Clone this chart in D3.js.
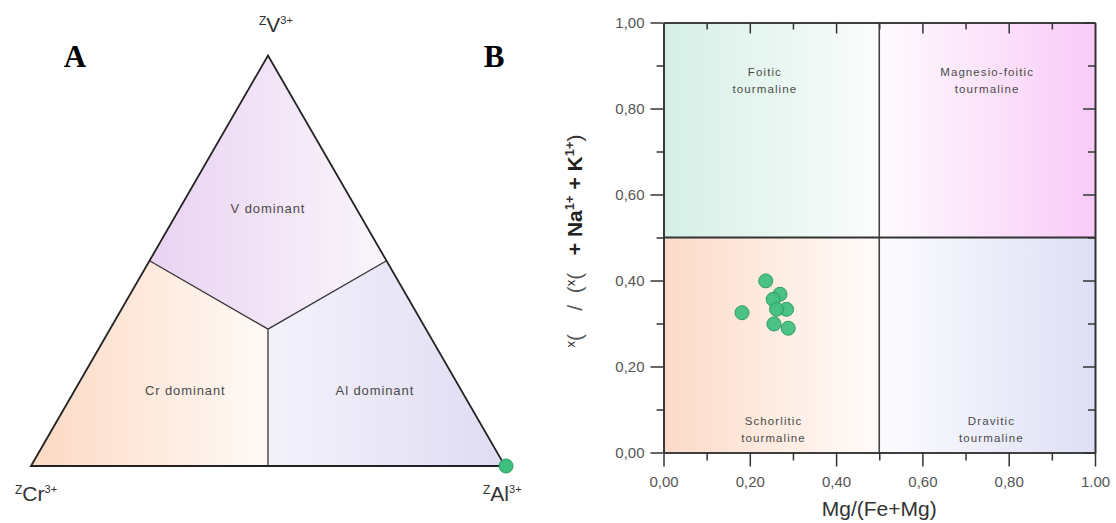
<!DOCTYPE html>
<html>
<head>
<meta charset="utf-8">
<script src="https://cdn.jsdelivr.net/npm/d3@7"></script>
<style>
  html, body { margin: 0; padding: 0; background: #fff; }
  svg { display: block; }
  .sans { font-family: "Liberation Sans", Arial, sans-serif; }
  .serif { font-family: "Liberation Serif", "Times New Roman", serif; }
  .pre { white-space: pre; }
</style>
</head>
<body>
<svg id="fig" width="1116" height="523"></svg>
<script>
// ---- Panel A: ternary Z-site diagram (Cr - V - Al) ----
const ternaryCorners = ["Cr", "V", "Al"];
const ternaryRegions = ["Cr dominant", "V dominant", "Al dominant"];
// sample composition as fractions of Z-site trivalent cations
const sampleCr = [0.0];
const sampleV = [0.0];
const sampleAl = [1.0];

// ---- Panel B: X-site vacancy vs Mg/(Fe+Mg) ----
const mgNumber = [0.237, 0.182, 0.270, 0.254, 0.285, 0.262, 0.256, 0.289];
const xVacancy = [0.399, 0.325, 0.368, 0.356, 0.333, 0.333, 0.299, 0.289];
const majorTicks = [0, 0.2, 0.4, 0.6, 0.8, 1.0];
const minorTicks = [0.1, 0.3, 0.5, 0.7, 0.9];
const xTickLabels = ["0,00", "0,20", "0,40", "0,60", "0,80", "1.00"];
const yTickLabels = ["0,00", "0,20", "0,40", "0,60", "0,80", "1,00"];
const fieldNames = [
  ["Foitic", "tourmaline"],
  ["Magnesio-foitic", "tourmaline"],
  ["Schorlitic", "tourmaline"],
  ["Dravitic", "tourmaline"]
];

const svg = d3.select("#fig");
const defs = svg.append("defs");

function hGradient(id, x1, x2, c1, c2) {
  const g = defs.append("linearGradient").attr("id", id)
    .attr("gradientUnits", "userSpaceOnUse")
    .attr("x1", x1).attr("x2", x2).attr("y1", 0).attr("y2", 0);
  g.append("stop").attr("offset", 0).attr("stop-color", c1);
  g.append("stop").attr("offset", 1).attr("stop-color", c2);
  return `url(#${id})`;
}

// ================= Panel A =================
const tri = svg.append("g").attr("class", "sans");
const base = d3.scaleLinear().domain([0, 1]).range([31, 505]);     // along Cr->Al edge
const heightY = d3.scaleLinear().domain([0, 1]).range([466, 55.5]); // V fraction

function tern(cr, v, al) {
  const s = cr + v + al;
  return [base(al / s + (v / s) / 2), heightY(v / s)];
}

const C_Cr = tern(1, 0, 0), C_V = tern(0, 1, 0), C_Al = tern(0, 0, 1);
const mid = tern(1, 1, 1);
const mCrV = tern(1, 1, 0), mVAl = tern(0, 1, 1), mCrAl = tern(1, 0, 1);

const regionPolys = [
  { pts: [C_Cr, mCrV, mid, mCrAl], fill: hGradient("gCr", C_Cr[0], mid[0], "#fdd9c3", "#fffaf7") },
  { pts: [C_V, mVAl, mid, mCrV], fill: hGradient("gV", mCrV[0], mVAl[0], "#e9d2f2", "#faf6fb") },
  { pts: [C_Al, mCrAl, mid, mVAl], fill: hGradient("gAl", mid[0], C_Al[0], "#f3f2fb", "#dfdcf3") }
];
tri.selectAll("path.region").data(regionPolys).join("path")
  .attr("class", "region")
  .attr("d", d => d3.line()(d.pts) + "Z")
  .attr("fill", d => d.fill)
  .attr("stroke", "none");

// internal boundaries from the centroid to the edge midpoints
tri.selectAll("line.bound").data([mCrV, mVAl, mCrAl]).join("line")
  .attr("class", "bound")
  .attr("x1", mid[0]).attr("y1", mid[1])
  .attr("x2", d => d[0]).attr("y2", d => d[1])
  .attr("stroke", "#333").attr("stroke-width", 1.3);

tri.append("path")
  .attr("d", d3.line()([C_Cr, C_V, C_Al]) + "Z")
  .attr("fill", "none").attr("stroke", "#222").attr("stroke-width", 1.8)
  .attr("stroke-linejoin", "miter");

// region labels (ternary positions Cr, V, Al)
const regionLabelAt = [
  tern(0.582, 0.185, 0.233),
  tern(0.186, 0.628, 0.186),
  tern(0.182, 0.185, 0.633)
];
tri.selectAll("text.rlab").data(ternaryRegions).join("text")
  .attr("class", "rlab")
  .attr("x", (d, i) => regionLabelAt[i][0])
  .attr("y", (d, i) => regionLabelAt[i][1] + 5)
  .attr("text-anchor", "middle")
  .attr("font-size", 13).attr("letter-spacing", 0.9)
  .attr("fill", "#4a4a4a")
  .text(d => d);

// corner labels  ᶻX³⁺
function cornerLabel(x, y, el) {
  const t = tri.append("text").attr("x", x).attr("y", y).attr("fill", "#333");
  t.append("tspan").attr("font-size", 12).attr("dy", -7).text("Z");
  t.append("tspan").attr("font-size", 21).attr("dy", 7).text(el);
  t.append("tspan").attr("font-size", 11).attr("dy", -8).text("3+");
  return t;
}
cornerLabel(15, 501, ternaryCorners[0]);
cornerLabel(259, 32, ternaryCorners[1]);
cornerLabel(483, 501, ternaryCorners[2]);

// sample point(s)
tri.selectAll("circle.samp").data(sampleAl).join("circle")
  .attr("class", "samp")
  .attr("cx", (d, i) => tern(sampleCr[i], sampleV[i], sampleAl[i])[0] + 1)
  .attr("cy", (d, i) => tern(sampleCr[i], sampleV[i], sampleAl[i])[1])
  .attr("r", 7)
  .attr("fill", "#3fbf7f").attr("stroke", "#2a9a5c").attr("stroke-width", 1);

// panel letters
svg.append("text").attr("class", "serif").attr("x", 75).attr("y", 67).attr("text-anchor", "middle")
  .attr("font-weight", "bold").attr("font-size", 31).attr("fill", "#000").text("A");
svg.append("text").attr("class", "serif").attr("x", 494).attr("y", 67).attr("text-anchor", "middle")
  .attr("font-weight", "bold").attr("font-size", 31).attr("fill", "#000").text("B");

// ================= Panel B =================
const x = d3.scaleLinear().domain([0, 1]).range([663.5, 1095]);
const y = d3.scaleLinear().domain([0, 1]).range([452.5, 22.5]);
const pb = svg.append("g").attr("class", "sans");

const quads = [
  { x0: 0, x1: 0.5, y0: 0.5, y1: 1, fill: hGradient("qFoi", x(0), x(0.5), "#d5efe5", "#fbfdfc") },
  { x0: 0.5, x1: 1, y0: 0.5, y1: 1, fill: hGradient("qMgFoi", x(0.5), x(1), "#fefbfe", "#f9cbf8") },
  { x0: 0, x1: 0.5, y0: 0, y1: 0.5, fill: hGradient("qSch", x(0), x(0.5), "#fcdac8", "#fffcfa") },
  { x0: 0.5, x1: 1, y0: 0, y1: 0.5, fill: hGradient("qDrv", x(0.5), x(1), "#fcfcff", "#dedff5") }
];
pb.selectAll("rect.quad").data(quads).join("rect")
  .attr("class", "quad")
  .attr("x", d => x(d.x0)).attr("y", d => y(d.y1))
  .attr("width", d => x(d.x1) - x(d.x0)).attr("height", d => y(d.y0) - y(d.y1))
  .attr("fill", d => d.fill);

// field boundaries
pb.append("line").attr("x1", x(0.5)).attr("x2", x(0.5)).attr("y1", y(0)).attr("y2", y(1))
  .attr("stroke", "#444").attr("stroke-width", 1.6);
pb.append("line").attr("x1", x(0)).attr("x2", x(1)).attr("y1", y(0.5)).attr("y2", y(0.5))
  .attr("stroke", "#333").attr("stroke-width", 1.8);

// field names
const fieldPos = [[0.235, 0.875], [0.75, 0.875], [0.255, 0.065], [0.76, 0.065]];
fieldNames.forEach((lines, i) => {
  const t = pb.append("text")
    .attr("x", x(fieldPos[i][0])).attr("y", y(fieldPos[i][1]))
    .attr("text-anchor", "middle").attr("font-size", 11.5)
    .attr("letter-spacing", 1.1).attr("fill", "#4a4a4a");
  lines.forEach((ln, j) => {
    t.append("tspan").attr("x", x(fieldPos[i][0])).attr("dy", j === 0 ? 0 : 17).text(ln);
  });
});

function styleAxis(g) {
  g.attr("font-family", null).attr("font-size", null);
  g.select(".domain").attr("stroke", "#333").attr("stroke-width", 1.6);
  g.selectAll(".tick line").attr("stroke", "#333").attr("stroke-width", 1.5);
  g.selectAll(".tick text").attr("fill", "#555").attr("font-size", 15);
}

// bottom axis: major labelled ticks and short minor ticks
pb.append("g").attr("transform", `translate(0,${y(0)})`)
  .call(d3.axisBottom(x).tickValues(minorTicks).tickSize(8).tickFormat("").tickSizeOuter(0))
  .call(styleAxis);
pb.append("g").attr("transform", `translate(0,${y(0)})`)
  .call(d3.axisBottom(x).tickValues(majorTicks).tickSize(14).tickPadding(10)
    .tickFormat((d, i) => xTickLabels[i]).tickSizeOuter(0))
  .call(styleAxis);

// left axis
pb.append("g").attr("transform", `translate(${x(0)},0)`)
  .call(d3.axisLeft(y).tickValues(minorTicks).tickSize(7).tickFormat("").tickSizeOuter(0))
  .call(styleAxis);
pb.append("g").attr("transform", `translate(${x(0)},0)`)
  .call(d3.axisLeft(y).tickValues(majorTicks).tickSize(13).tickPadding(6)
    .tickFormat((d, i) => yTickLabels[i]).tickSizeOuter(0))
  .call(styleAxis);

// top and right mirror axes with inward ticks
pb.append("g").attr("transform", `translate(0,${y(1)})`)
  .call(d3.axisTop(x).tickValues(minorTicks).tickSize(-7).tickFormat("").tickSizeOuter(0))
  .call(styleAxis);
pb.append("g").attr("transform", `translate(0,${y(1)})`)
  .call(d3.axisTop(x).tickValues(majorTicks.slice(1, 5)).tickSize(-11).tickFormat("").tickSizeOuter(0))
  .call(styleAxis);
pb.append("g").attr("transform", `translate(${x(1)},0)`)
  .call(d3.axisRight(y).tickValues(minorTicks).tickSize(-7).tickFormat("").tickSizeOuter(0))
  .call(styleAxis);
pb.append("g").attr("transform", `translate(${x(1)},0)`)
  .call(d3.axisRight(y).tickValues(majorTicks).tickSize(-12).tickFormat("").tickSizeOuter(0))
  .call(styleAxis);

// axis titles
pb.append("text").attr("x", x(0.5)).attr("y", 516).attr("text-anchor", "middle")
  .attr("font-size", 21).attr("fill", "#333").text("Mg/(Fe+Mg)");

const yt = pb.append("text").attr("class", "sans pre")
  .attr("transform", `translate(582,241) rotate(-90)`)
  .attr("text-anchor", "middle").attr("font-size", 21).attr("fill", "#333");
yt.append("tspan").attr("font-size", 13).attr("dy", -7).text("x");
yt.append("tspan").attr("dy", 7).attr("fill", "#555").text("(    /  (");
yt.append("tspan").attr("font-size", 13).attr("dy", -7).text("x");
yt.append("tspan").attr("dy", 7).attr("fill", "#555").text("(   ");
yt.append("tspan").attr("font-weight", "bold").attr("fill", "#222").text("+ Na");
yt.append("tspan").attr("font-size", 13).attr("font-weight", "bold").attr("dy", -8).text("1+");
yt.append("tspan").attr("font-weight", "bold").attr("dy", 8).attr("fill", "#222").text(" + K");
yt.append("tspan").attr("font-size", 13).attr("font-weight", "bold").attr("dy", -8).text("1+");
yt.append("tspan").attr("dy", 8).text(")");

// samples
pb.selectAll("circle.pt").data(mgNumber).join("circle")
  .attr("class", "pt")
  .attr("cx", d => x(d))
  .attr("cy", (d, i) => y(xVacancy[i]))
  .attr("r", 7)
  .attr("fill", "#40c080").attr("fill-opacity", 0.95)
  .attr("stroke", "#2d9c60").attr("stroke-width", 1);
</script>
</body>
</html>
